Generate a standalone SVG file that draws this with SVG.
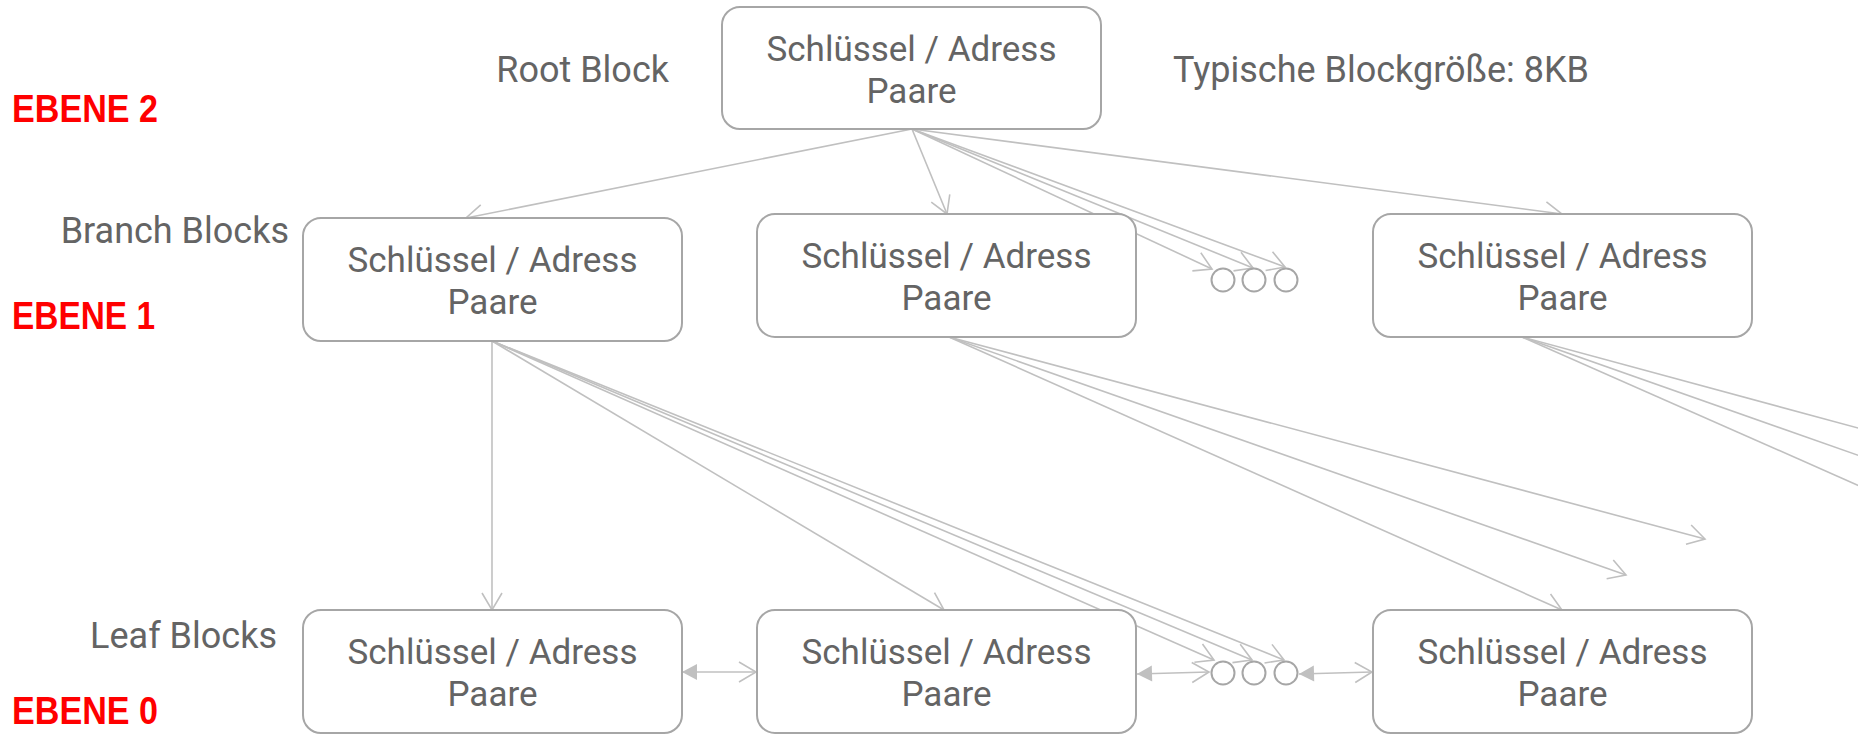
<svg xmlns="http://www.w3.org/2000/svg" width="1858" height="734" viewBox="0 0 1858 734">
  <style>
    .blk rect { fill: #ffffff; stroke: #a6a6a6; stroke-width: 2; }
    .t { font-family: Roboto, "Open Sans", "Liberation Sans", sans-serif; font-size: 35px; fill: #646464; }
    .side { font-size: 36px; }
    .mid { text-anchor: middle; }
    .end { text-anchor: end; }
    .lvl { font-family: "Liberation Sans", "Arial", sans-serif; font-weight: bold; font-size: 38px; fill: #ff0000; }
    .conn line { stroke: #c0c0c0; stroke-width: 1.6; fill: none; }
    .dot { fill: #ffffff; stroke: #a6a6a6; stroke-width: 2; }
  </style>
  <defs>
    <!-- open chevron head -->
    <marker id="open" viewBox="0 0 18 20" refX="17" refY="10" markerWidth="18" markerHeight="20" markerUnits="userSpaceOnUse" orient="auto" overflow="visible">
      <path d="M0,0 L17,10 L0,20" fill="none" stroke="#c0c0c0" stroke-width="1.6"/>
    </marker>
    <!-- solid triangle head, used at line starts -->
    <marker id="solid" viewBox="0 0 15 16" refX="15" refY="8" markerWidth="15" markerHeight="16" markerUnits="userSpaceOnUse" orient="auto-start-reverse" overflow="visible">
      <path d="M0,0 L15,8 L0,16 Z" fill="#c0c0c0"/>
    </marker>
  </defs>

  <!-- level captions -->
  <g id="levels">
    <text class="lvl" x="12" y="122" textLength="146" lengthAdjust="spacingAndGlyphs">EBENE 2</text>
    <text class="lvl" x="12" y="329" textLength="143" lengthAdjust="spacingAndGlyphs">EBENE 1</text>
    <text class="lvl" x="12" y="724" textLength="146" lengthAdjust="spacingAndGlyphs">EBENE 0</text>
  </g>

  <!-- side labels -->
  <g id="labels">
    <text class="t side end" x="669" y="82">Root Block</text>
    <text class="t side" x="1173" y="82">Typische Blockgröße: 8KB</text>
    <text class="t side end" x="289" y="243">Branch Blocks</text>
    <text class="t side end" x="277" y="648">Leaf Blocks</text>
  </g>

  <!-- connectors -->
  <g id="connectors" class="conn">
    <!-- root to branches -->
    <line x1="912" y1="129" x2="466" y2="218" marker-end="url(#open)"/>
    <line x1="912" y1="129" x2="947" y2="214" marker-end="url(#open)"/>
    <line x1="912" y1="129" x2="1212" y2="269" marker-end="url(#open)"/>
    <line x1="912" y1="129" x2="1253" y2="268" marker-end="url(#open)"/>
    <line x1="912" y1="129" x2="1285" y2="267" marker-end="url(#open)"/>
    <line x1="912" y1="129" x2="1562" y2="214" marker-end="url(#open)"/>

    <!-- branch 1 to leaves -->
    <line x1="492" y1="341" x2="492" y2="610" marker-end="url(#open)"/>
    <line x1="492" y1="341" x2="944" y2="610" marker-end="url(#open)"/>
    <line x1="492" y1="341" x2="1214" y2="660" marker-end="url(#open)"/>
    <line x1="492" y1="341" x2="1252" y2="660" marker-end="url(#open)"/>
    <line x1="492" y1="341" x2="1284" y2="660" marker-end="url(#open)"/>

    <!-- branch 2 to leaves -->
    <line x1="949" y1="337" x2="1705" y2="539" marker-end="url(#open)"/>
    <line x1="949" y1="337" x2="1626" y2="575" marker-end="url(#open)"/>
    <line x1="949" y1="337" x2="1562" y2="610" marker-end="url(#open)"/>

    <!-- branch 3 to leaves (running off the sheet) -->
    <line x1="1522" y1="337" x2="1880" y2="434"/>
    <line x1="1522" y1="337" x2="1880" y2="463"/>
    <line x1="1522" y1="337" x2="1880" y2="495"/>

    <!-- leaf chain -->
    <line x1="682" y1="672" x2="756" y2="672" marker-start="url(#solid)" marker-end="url(#open)"/>
    <line x1="1137" y1="674" x2="1209" y2="672" marker-start="url(#solid)" marker-end="url(#open)"/>
    <line x1="1299" y1="674" x2="1372" y2="672" marker-start="url(#solid)" marker-end="url(#open)"/>
  </g>

  <!-- root block -->
  <g id="root" class="blk">
    <rect x="722" y="7" width="379" height="122" rx="18"/>
    <text class="t mid"><tspan x="911.5" y="61">Schlüssel / Adress</tspan><tspan x="911.5" y="103">Paare</tspan></text>
  </g>

  <!-- branch blocks -->
  <g id="branch1" class="blk">
    <rect x="303" y="218" width="379" height="123" rx="18"/>
    <text class="t mid"><tspan x="492.5" y="272">Schlüssel / Adress</tspan><tspan x="492.5" y="314">Paare</tspan></text>
  </g>
  <g id="branch2" class="blk">
    <rect x="757" y="214" width="379" height="123" rx="18"/>
    <text class="t mid"><tspan x="946.5" y="268">Schlüssel / Adress</tspan><tspan x="946.5" y="310">Paare</tspan></text>
  </g>
  <g id="branch3" class="blk">
    <rect x="1373" y="214" width="379" height="123" rx="18"/>
    <text class="t mid"><tspan x="1562.5" y="268">Schlüssel / Adress</tspan><tspan x="1562.5" y="310">Paare</tspan></text>
  </g>
  <g id="more-branches">
    <circle class="dot" cx="1223" cy="280" r="11.5"/>
    <circle class="dot" cx="1254" cy="280" r="11.5"/>
    <circle class="dot" cx="1286" cy="280" r="11.5"/>
  </g>

  <!-- leaf blocks -->
  <g id="leaf1" class="blk">
    <rect x="303" y="610" width="379" height="123" rx="18"/>
    <text class="t mid"><tspan x="492.5" y="664">Schlüssel / Adress</tspan><tspan x="492.5" y="706">Paare</tspan></text>
  </g>
  <g id="leaf2" class="blk">
    <rect x="757" y="610" width="379" height="123" rx="18"/>
    <text class="t mid"><tspan x="946.5" y="664">Schlüssel / Adress</tspan><tspan x="946.5" y="706">Paare</tspan></text>
  </g>
  <g id="leaf3" class="blk">
    <rect x="1373" y="610" width="379" height="123" rx="18"/>
    <text class="t mid"><tspan x="1562.5" y="664">Schlüssel / Adress</tspan><tspan x="1562.5" y="706">Paare</tspan></text>
  </g>
  <g id="more-leaves">
    <circle class="dot" cx="1223" cy="673" r="11.5"/>
    <circle class="dot" cx="1254" cy="673" r="11.5"/>
    <circle class="dot" cx="1286" cy="673" r="11.5"/>
  </g>
</svg>
